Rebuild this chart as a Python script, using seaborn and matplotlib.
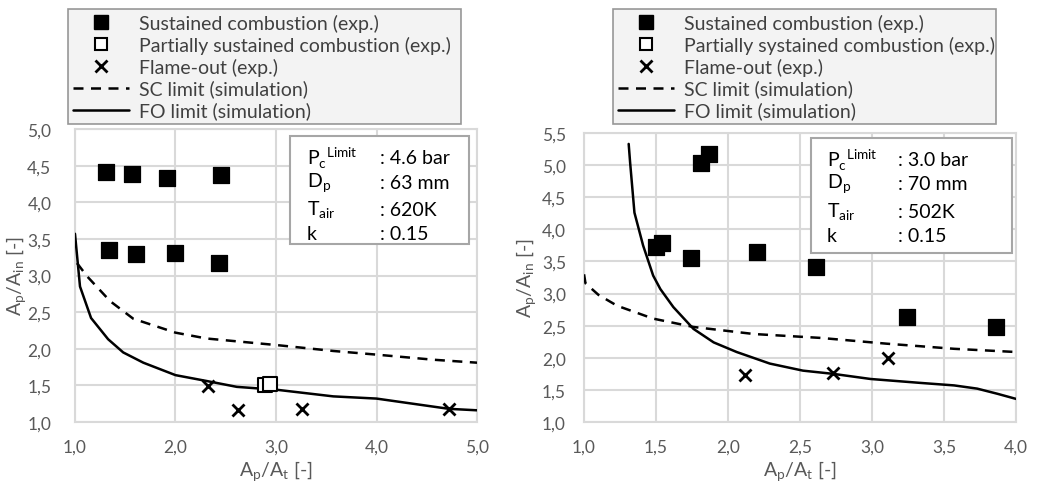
import numpy as np
import pandas as pd
import matplotlib
matplotlib.use('Agg')
import matplotlib.pyplot as plt
import seaborn as sns
from matplotlib.lines import Line2D
from matplotlib.patches import Rectangle

# left panel (Pc 4.6 bar)
l_sc_x = [1.31, 1.57, 1.92, 2.45, 1.34, 1.61, 2.00, 2.43]
l_sc_y = [4.42, 4.39, 4.33, 4.37, 3.35, 3.29, 3.31, 3.17]
l_ps_x = [2.89, 2.94]
l_ps_y = [1.50, 1.52]
l_fo_x = [2.32, 2.62, 3.26, 4.72]
l_fo_y = [1.49, 1.16, 1.18, 1.18]
l_sclim_x = [1.02, 1.12, 1.35, 1.58, 2.00, 2.31, 3.01, 3.57, 4.00, 4.57, 5.00]
l_sclim_y = [3.17, 2.99, 2.65, 2.41, 2.22, 2.14, 2.05, 1.97, 1.92, 1.85, 1.81]
l_folim_x = [1.00, 1.05, 1.16, 1.33, 1.48, 1.68, 2.00, 2.31, 2.61, 3.01, 3.57, 4.00, 4.72, 5.00]
l_folim_y = [3.57, 2.85, 2.42, 2.13, 1.95, 1.81, 1.64, 1.56, 1.48, 1.44, 1.35, 1.32, 1.18, 1.16]

# right panel (Pc 3.0 bar)
r_sc_x = [1.50, 1.54, 1.74, 1.81, 1.87, 2.20, 2.61, 3.24, 3.86]
r_sc_y = [3.72, 3.79, 3.56, 5.04, 5.17, 3.65, 3.41, 2.63, 2.48]
r_fo_x = [2.12, 2.73, 3.11]
r_fo_y = [1.73, 1.76, 1.99]
r_sclim_x = [1.00, 1.01, 1.10, 1.23, 1.48, 1.76, 2.18, 2.64, 3.10, 3.57, 4.00]
r_sclim_y = [3.30, 3.16, 2.98, 2.81, 2.61, 2.48, 2.37, 2.31, 2.22, 2.14, 2.09]
r_folim_x = [1.31, 1.32, 1.35, 1.41, 1.48, 1.53, 1.62, 1.76, 1.90, 2.06, 2.29, 2.52, 2.73,
             2.99, 3.33, 3.57, 3.73, 3.87, 4.00]
r_folim_y = [5.33, 5.04, 4.26, 3.75, 3.28, 3.07, 2.79, 2.45, 2.24, 2.09, 1.91, 1.80, 1.75,
             1.67, 1.61, 1.57, 1.52, 1.44, 1.36]

left_info = [r'P$_\mathregular{c}$$^\mathregular{Limit}$', r'D$_\mathregular{p}$',
             r'T$_\mathregular{air}$', 'k']
left_vals = [': 4.6 bar', ': 63 mm', ': 620K', ': 0.15']
right_vals = [': 3.0 bar', ': 70 mm', ': 502K', ': 0.15']

legend_labels = ['Sustained combustion (exp.)', 'Partially sustained combustion (exp.)',
                 'Flame-out (exp.)', 'SC limit (simulation)', 'FO limit (simulation)']
legend_labels_r = list(legend_labels)
legend_labels_r[1] = 'Partially systained combustion (exp.)'

sns.set_theme(style='white')
plt.rcParams['font.family'] = ['Lato', 'DejaVu Sans']
plt.rcParams['mathtext.fontset'] = 'custom'
plt.rcParams['mathtext.rm'] = 'Lato'

grid_c = '#d9d9d9'
tick_c = '#595959'
text_c = '#404040'

fig = plt.figure(figsize=(10.37, 4.85), dpi=100)
axL = fig.add_axes([0.0723, 0.1278, 0.3877, 0.6041])
axR = fig.add_axes([0.5632, 0.1278, 0.4166, 0.5959])


def draw(ax, sc, ps, fo, sclim, folim, ypad, ylab_x, xlab_y):
    sns.lineplot(x=sclim[0], y=sclim[1], ax=ax, color='black', lw=1.8, ls=(0, (4, 3)),
                 sort=False, estimator=None, zorder=3)
    sns.lineplot(x=folim[0], y=folim[1], ax=ax, color='black', lw=1.8,
                 sort=False, estimator=None, zorder=3)
    sns.scatterplot(x=sc[0], y=sc[1], ax=ax, marker='s', s=125, color='black',
                    edgecolor='black', zorder=4)
    if ps is not None:
        sns.scatterplot(x=ps[0], y=ps[1], ax=ax, marker='s', s=100, facecolor='white',
                        edgecolor='black', linewidth=1.5, zorder=4)
    sns.scatterplot(x=fo[0], y=fo[1], ax=ax, marker='x', s=75, color='black',
                    linewidth=2, zorder=4)
    ax.grid(True, color=grid_c, lw=1.5)
    ax.set_axisbelow(True)
    for sp in ax.spines.values():
        sp.set_color(grid_c)
        sp.set_linewidth(1.5)
    ax.tick_params(axis='both', colors=tick_c, labelsize=12.5, length=0)
    ax.tick_params(axis='x', pad=12)
    ax.tick_params(axis='y', pad=ypad)
    ax.set_xlabel(r'A$_\mathregular{p}$/A$_\mathregular{t}$ [-]', color=tick_c, fontsize=14)
    ax.set_ylabel(r'A$_\mathregular{p}$/A$_\mathregular{in}$ [-]', color=tick_c, fontsize=14)
    ax.yaxis.set_label_coords(ylab_x, 0.5)
    ax.xaxis.set_label_coords(0.5, xlab_y)


draw(axL, (l_sc_x, l_sc_y), (l_ps_x, l_ps_y), (l_fo_x, l_fo_y),
     (l_sclim_x, l_sclim_y), (l_folim_x, l_folim_y), 17, -0.115, -0.125)
draw(axR, (r_sc_x, r_sc_y), None, (r_fo_x, r_fo_y),
     (r_sclim_x, r_sclim_y), (r_folim_x, r_folim_y), 13, -0.105, -0.127)

axL.set_xlim(1, 5)
axL.set_ylim(1, 5)
axL.set_xticks(np.arange(1, 5.01, 1.0))
axL.set_yticks(np.arange(1, 5.01, 0.5))
axR.set_xlim(1, 4)
axR.set_ylim(1, 5.5)
axR.set_xticks(np.arange(1, 4.01, 0.5))
axR.set_yticks(np.arange(1, 5.51, 0.5))


def comma(v, nd=1):
    return f'{v:.{nd}f}'.replace('.', ',')


for ax in (axL, axR):
    ax.set_xticklabels([comma(v) for v in ax.get_xticks()])
    ax.set_yticklabels([comma(v) for v in ax.get_yticks()])

handles = [
    Line2D([], [], ls='none', marker='s', ms=10, color='black'),
    Line2D([], [], ls='none', marker='s', ms=9, mfc='white', mec='black', mew=1.5),
    Line2D([], [], ls='none', marker='x', ms=8, mew=2, color='black'),
    Line2D([], [], color='black', lw=1.8, ls=(0, (4, 3))),
    Line2D([], [], color='black', lw=1.8),
]

for ax, labels, box in ((axL, legend_labels, (68, 10, 461, 124)),
                        (axR, legend_labels_r, (613, 10, 996, 124))):
    x0, y0, x1, y1 = box
    W, H = 1037, 485
    leg = ax.legend(handles, labels, loc='upper left',
                    bbox_to_anchor=(x0 / W, 1 - y1 / H, (x1 - x0) / W, (y1 - y0) / H),
                    bbox_transform=fig.transFigure, mode='expand', fontsize=14,
                    frameon=True, fancybox=False, handlelength=2.9, handletextpad=0.5,
                    labelspacing=0.2, borderpad=0.25, borderaxespad=0)
    leg.get_frame().set_facecolor('#f0f0f0')
    leg.get_frame().set_edgecolor('#7f7f7f')
    leg.get_frame().set_linewidth(1.2)
    for t in leg.get_texts():
        t.set_color(text_c)

boxes = [
    (axL, left_vals, (0.535, 0.607, 0.445, 0.369), 0.577, 0.759, [0.904, 0.819, 0.727, 0.642]),
    (axR, right_vals, (0.525, 0.585, 0.466, 0.398), 0.5625, 0.727, [0.910, 0.824, 0.730, 0.644]),
]
for ax, vals, rect, xl, xv, ys in boxes:
    ax.add_patch(Rectangle(rect[:2], rect[2], rect[3], transform=ax.transAxes,
                           facecolor='white', edgecolor='#a6a6a6', lw=1.5, zorder=5))
    for lab, val, y in zip(left_info, vals, ys):
        ax.text(xl, y, lab, transform=ax.transAxes, fontsize=14, color='black',
                va='center', ha='left', zorder=6)
        ax.text(xv, y, val, transform=ax.transAxes, fontsize=14, color='black',
                va='center', ha='left', zorder=6)

fig.savefig('out.png', dpi=100)
